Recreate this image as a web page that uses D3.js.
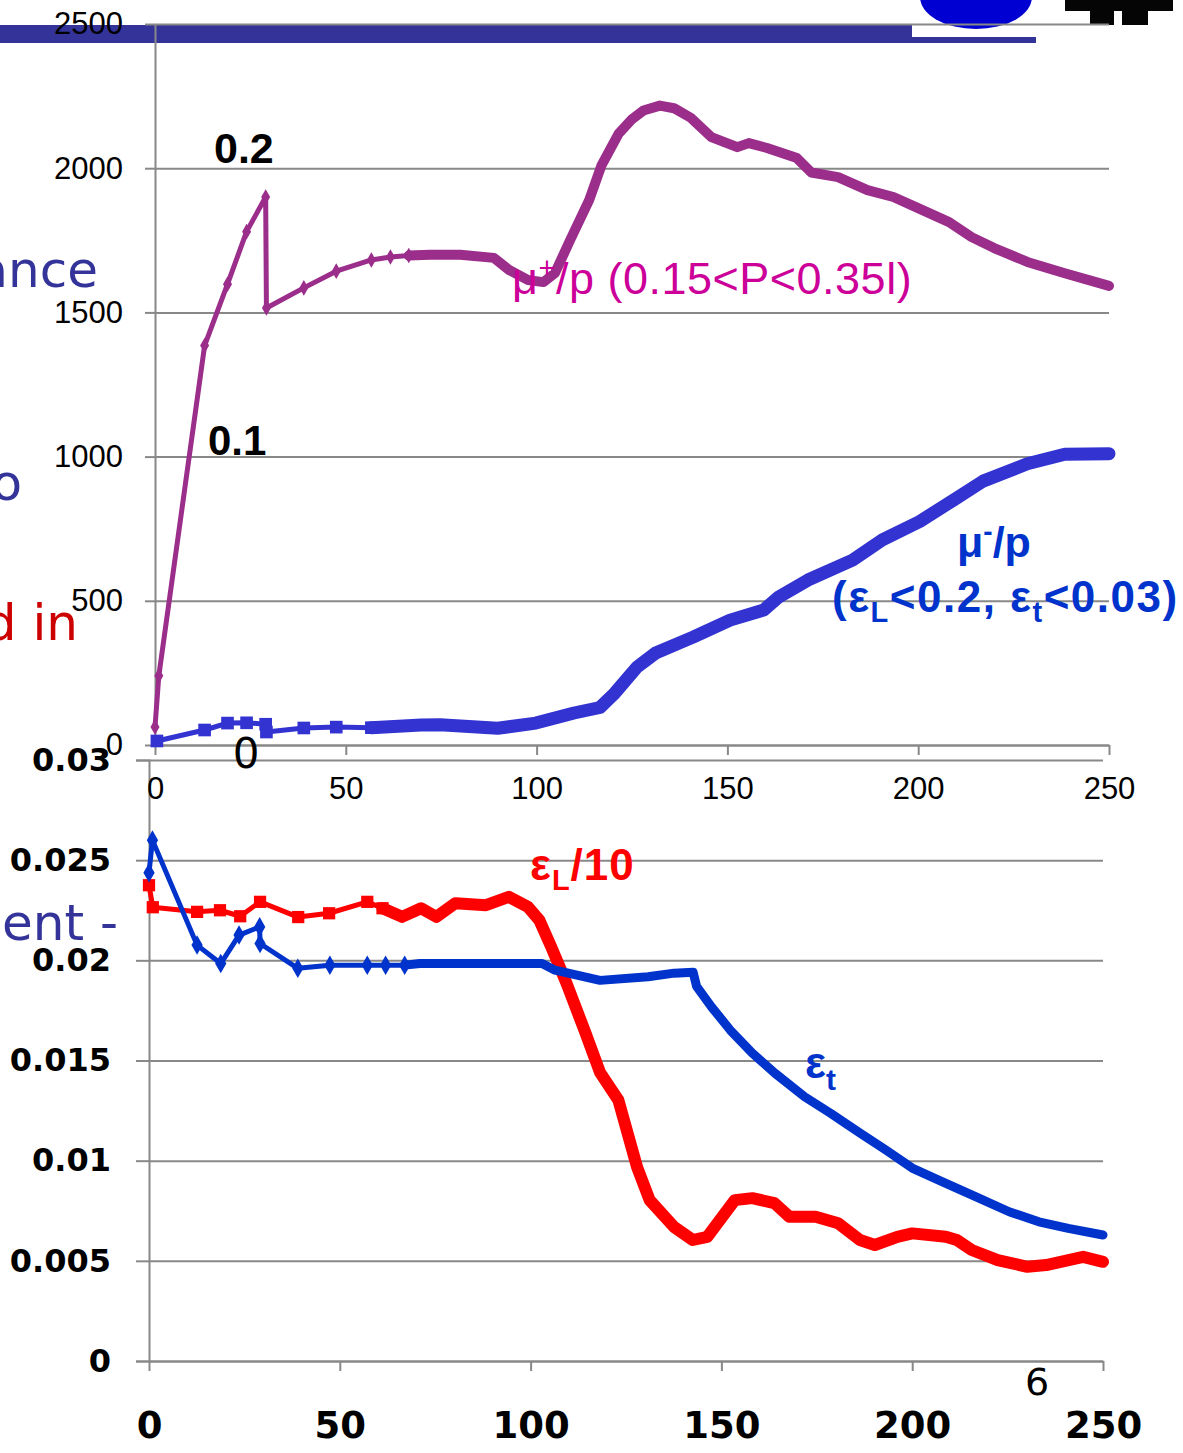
<!DOCTYPE html>
<html>
<head>
<meta charset="utf-8">
<script src="https://cdn.jsdelivr.net/npm/d3@7"></script>
<style>
  body { margin: 0; background: #fff; }
  svg { display: block; }
  .grid line { stroke: #888; stroke-width: 2; }
  .grid path { display: none; }
  .axis path, .axis line { stroke: #888; stroke-width: 2; }
  .top-ticks text { font-family: "Liberation Sans", Arial, sans-serif; font-size: 31px; fill: #000; }
  .bot-ticks text { font-family: "DejaVu Sans", sans-serif; font-weight: bold; fill: #000; }
</style>
</head>
<body>
<div id="chart"></div>
<script>
// top panel: mu+/p and mu-/p vs x
var xTicks = [0, 50, 100, 150, 200, 250];
var topYTicks = [0, 500, 1000, 1500, 2000, 2500];
var topYLabels = ["0", "500", "1000", "1500", "2000", "2500"];

var muPlusX = [0, 1, 13, 19, 24, 29, 29.2, 39, 47.5, 56.7, 61.7, 66.5, 72, 80, 88.8, 92.8, 97.8, 101.8, 104.8, 108.8,
  113.8, 117, 121.5, 125, 128, 132.3, 136, 140.5, 145.8, 152.6, 155.6, 160.4, 168.2, 172, 179, 186.7, 193.5, 199.4,
  208.1, 214, 219.9, 228.6, 238.4, 250];
var muPlusY = [62, 240, 1385, 1598, 1780, 1900, 1515, 1585, 1643, 1682, 1692, 1697, 1700, 1700, 1689, 1647, 1612, 1605, 1636, 1751,
  1890, 2010, 2120, 2170, 2200, 2217, 2208, 2174, 2108, 2073, 2087, 2070, 2035, 1985, 1969, 1924, 1900, 1865,
  1813, 1761, 1723, 1675, 1636, 1592];

var muMinusX = [0.5, 13, 19, 24, 29, 29.2, 39, 47.5, 56.7, 69.7, 74.7, 89.8, 99.8, 109.8, 116.6, 120.5, 126.3, 131.2, 141,
  150.7, 159.5, 163.4, 171.1, 182.8, 190.6, 200.4, 209.2, 217, 228.6, 238.4, 250];
var muMinusY = [14, 52, 76, 77, 72, 45, 59, 62, 60, 69, 70, 58, 76, 111, 130, 180, 270, 319, 374,
  433, 468, 513, 572, 641, 711, 775, 849, 915, 975, 1008, 1010];

// bottom panel: eps_L/10 and eps_t vs x
var botYTicks = [0, 0.005, 0.01, 0.015, 0.02, 0.025, 0.03];
var botYLabels = ["0", "0.005", "0.01", "0.015", "0.02", "0.025", "0.03"];

var epsLX = [0, 1, 12.6, 18.6, 23.9, 29.1, 39.1, 47.2, 57.2, 61.2, 66.3, 71.3, 75.3, 80.3, 88.3, 94.3, 99.3, 102.3, 105.4,
  109.4, 114.4, 118.2, 123, 127.9, 131.2, 137.6, 142.5, 146.3, 153.5, 158.1, 163.9, 167.8, 174.7, 180.6, 186.3, 190.2,
  196.1, 200, 208.8, 211.7, 215.6, 222.4, 230.2, 235.1, 244.8, 250];
var epsLY = [0.02375, 0.02265, 0.02242, 0.0225, 0.0222, 0.02292, 0.02216, 0.02235, 0.02292, 0.0226, 0.02217, 0.0226, 0.02217,
  0.02285, 0.02275, 0.02317, 0.02267, 0.022, 0.02067, 0.01886, 0.01637, 0.0144, 0.01302, 0.00968, 0.00803, 0.00669,
  0.00604, 0.0062, 0.00803, 0.00813, 0.00788, 0.0072, 0.0072, 0.00688, 0.00604, 0.00579, 0.0062, 0.00637, 0.0062,
  0.00604, 0.00554, 0.00504, 0.0047, 0.00479, 0.0052, 0.00495];

var epsTX = [0, 0.9, 12.6, 18.8, 23.6, 29, 29.1, 39, 47.4, 57.2, 62, 67, 71, 80, 90, 103, 106.4, 118.2, 130.8, 137.6,
  142.6, 143.5, 147.4, 152.3, 158.1, 164, 171.8, 178.6, 186.3, 193.1, 200, 207.8, 216.6, 225.4, 233.2, 240.9, 250];
var epsTY = [0.02437, 0.026, 0.02076, 0.01984, 0.02126, 0.02167, 0.02084, 0.0196, 0.01976, 0.01976, 0.01976, 0.01976,
  0.01984, 0.01984, 0.01984, 0.01984, 0.01951, 0.019, 0.01918, 0.01936, 0.0194, 0.0187, 0.01768, 0.01652, 0.01537,
  0.01437, 0.01319, 0.01237, 0.01138, 0.01053, 0.00963, 0.00895, 0.0082, 0.00745, 0.00695, 0.00662, 0.00629];

function zip(xs, ys) {
  return xs.map(function (d, i) { return { x: d, y: ys[i] }; });
}

var svg = d3.select("#chart").append("svg").attr("width", 1183).attr("height", 1453);

// slide decoration behind the charts
svg.append("rect").attr("x", 0).attr("y", 25).attr("width", 912).attr("height", 18).attr("fill", "#333399");
svg.append("rect").attr("x", 912).attr("y", 37).attr("width", 124).attr("height", 6).attr("fill", "#333399");
svg.append("ellipse").attr("cx", 976).attr("cy", -3).attr("rx", 56).attr("ry", 32).attr("fill", "#0000d2");
svg.append("path").attr("fill", "#050505")
  .attr("d", "M1065,0H1173V11H1148V25H1122V11H1114V25H1090V11H1065Z");

var slideText = [
  { t: "ance", x: 98, y: 287, c: "#333399" },
  { t: "o", x: 22, y: 500, c: "#333399" },
  { t: "d in", x: 78, y: 640, c: "#cc0000" },
  { t: "ent -", x: 118, y: 940, c: "#333399" }
];
svg.selectAll(".slide-text").data(slideText).enter().append("text")
  .attr("class", "slide-text")
  .attr("x", function (d) { return d.x; })
  .attr("y", function (d) { return d.y; })
  .attr("text-anchor", "end")
  .style("font-family", "DejaVu Sans, sans-serif")
  .style("font-size", "50px")
  .attr("fill", function (d) { return d.c; })
  .text(function (d) { return d.t; });

function drawSeries(g, x, y, data, opt) {
  var line = d3.line().x(function (d) { return x(d.x); }).y(function (d) { return y(d.y); });
  g.append("path").datum(data)
    .attr("fill", "none").attr("stroke", opt.color).attr("stroke-width", opt.thin)
    .attr("stroke-linejoin", "round").attr("d", line);
  var start = data.findIndex(function (d) { return d.x >= opt.denseFrom; });
  var dense = data.slice(Math.max(0, start - 1));
  g.append("path").datum(dense)
    .attr("fill", "none").attr("stroke", opt.color).attr("stroke-width", opt.band)
    .attr("stroke-linejoin", "round").attr("stroke-linecap", "round").attr("d", line);
  g.selectAll(null).data(data.filter(function (d) { return d.x < opt.denseFrom; }))
    .enter().append("path")
    .attr("transform", function (d) { return "translate(" + x(d.x) + "," + y(d.y) + ")"; })
    .attr("d", d3.symbol().type(opt.symbol).size(opt.size))
    .attr("fill", opt.color);
}

// ---------- bottom chart ----------
var xB = d3.scaleLinear().domain([0, 250]).range([149, 1103]);
var yB = d3.scaleLinear().domain([0, 0.03]).range([1361, 760]);

var gB = svg.append("g");
gB.append("g").attr("class", "grid")
  .attr("transform", "translate(149,0)")
  .call(d3.axisLeft(yB).tickValues(botYTicks).tickSize(-954).tickFormat(""));
gB.append("g").attr("class", "axis bot-ticks")
  .attr("transform", "translate(149,0)")
  .call(d3.axisLeft(yB).tickValues(botYTicks).tickSize(13).tickPadding(25)
    .tickFormat(function (d, i) { return botYLabels[i]; }))
  .selectAll("text").style("font-size", "32px");
gB.append("g").attr("class", "axis bot-ticks")
  .attr("transform", "translate(0,1361)")
  .call(d3.axisBottom(xB).tickValues(xTicks).tickSize(10).tickPadding(41).tickSizeOuter(0))
  .selectAll("text").style("font-size", "37px");

drawSeries(gB, xB, yB, zip(epsLX, epsLY),
  { color: "#ff0000", thin: 5, band: 12, denseFrom: 64, symbol: d3.symbolSquare, size: 150 });
drawSeries(gB, xB, yB, zip(epsTX, epsTY),
  { color: "#0033cc", thin: 5, band: 9, denseFrom: 69, symbol: d3.symbolDiamond, size: 110 });

var lab = svg.append("g")
  .style("font-family", "Liberation Sans, Arial, sans-serif").style("font-weight", "bold");
var tL = lab.append("text").attr("x", 530).attr("y", 880).attr("fill", "#ff0000")
  .style("font-size", "44px").style("letter-spacing", "1px");
tL.append("tspan").text("ε");
tL.append("tspan").attr("dy", 10).style("font-size", "29px").text("L");
tL.append("tspan").attr("dy", -10).text("/10");
var tT = lab.append("text").attr("x", 805).attr("y", 1078).attr("fill", "#0033cc").style("font-size", "44px");
tT.append("tspan").text("ε");
tT.append("tspan").attr("dy", 12).style("font-size", "30px").text("t");

// ---------- top chart ----------
var xT = d3.scaleLinear().domain([0, 250]).range([155, 1109]);
var yT = d3.scaleLinear().domain([0, 2500]).range([745, 24]);

var gT = svg.append("g");
gT.append("g").attr("class", "grid")
  .attr("transform", "translate(155,0)")
  .call(d3.axisLeft(yT).tickValues(topYTicks).tickSize(-954).tickFormat(""));
gT.append("g").attr("class", "axis top-ticks")
  .attr("transform", "translate(155,0)")
  .call(d3.axisLeft(yT).tickValues(topYTicks).tickSize(10).tickPadding(22).tickSizeOuter(0)
    .tickFormat(function (d, i) { return topYLabels[i]; }));
gT.append("g").attr("class", "axis top-ticks")
  .attr("transform", "translate(0,745)")
  .call(d3.axisBottom(xT).tickValues(xTicks).tickSize(10).tickPadding(22).tickSizeOuter(0));

drawSeries(gT, xT, yT, zip(muPlusX, muPlusY),
  { color: "#9b2d8b", thin: 5, band: 10, denseFrom: 68, symbol: d3.symbolDiamond, size: 70 });
drawSeries(gT, xT, yT, zip(muMinusX, muMinusY),
  { color: "#3333d2", thin: 5, band: 13, denseFrom: 60, symbol: d3.symbolSquare, size: 160 });

var labT = svg.append("g").style("font-family", "Liberation Sans, Arial, sans-serif");
labT.append("text").attr("x", 214).attr("y", 163).style("font-size", "43px").style("font-weight", "bold").text("0.2");
labT.append("text").attr("x", 208).attr("y", 455).style("font-size", "42px").style("font-weight", "bold").text("0.1");

var tP = labT.append("text").attr("x", 512).attr("y", 294).attr("fill", "#cc0099")
  .style("font-size", "45px").style("letter-spacing", "0.5px");
tP.append("tspan").text("μ");
tP.append("tspan").attr("dy", -16).style("font-size", "29px").text("+");
tP.append("tspan").attr("dy", 16).text("/p (0.15<P<0.35l)");

var tM = labT.append("text").attr("x", 957).attr("y", 557).attr("fill", "#0033cc")
  .style("font-size", "43px").style("font-weight", "bold");
tM.append("tspan").text("μ");
tM.append("tspan").attr("dy", -16).style("font-size", "28px").text("-");
tM.append("tspan").attr("dy", 16).text("/p");

var tC = labT.append("text").attr("x", 832).attr("y", 612).attr("fill", "#0033cc")
  .style("font-size", "44px").style("font-weight", "bold").style("letter-spacing", "1.5px");
tC.append("tspan").text("(ε");
tC.append("tspan").attr("dy", 10).style("font-size", "29px").text("L");
tC.append("tspan").attr("dy", -10).text("<0.2, ε");
tC.append("tspan").attr("dy", 10).style("font-size", "29px").text("t");
tC.append("tspan").attr("dy", -10).text("<0.03)");

// stray slide glyphs
svg.append("text").attr("x", 246).attr("y", 768).attr("text-anchor", "middle")
  .style("font-family", "DejaVu Sans, sans-serif").style("font-size", "42px").text("0");
svg.append("text").attr("x", 1037).attr("y", 1395).attr("text-anchor", "middle")
  .style("font-family", "DejaVu Sans, sans-serif").style("font-size", "38px").text("6");
</script>
</body>
</html>
